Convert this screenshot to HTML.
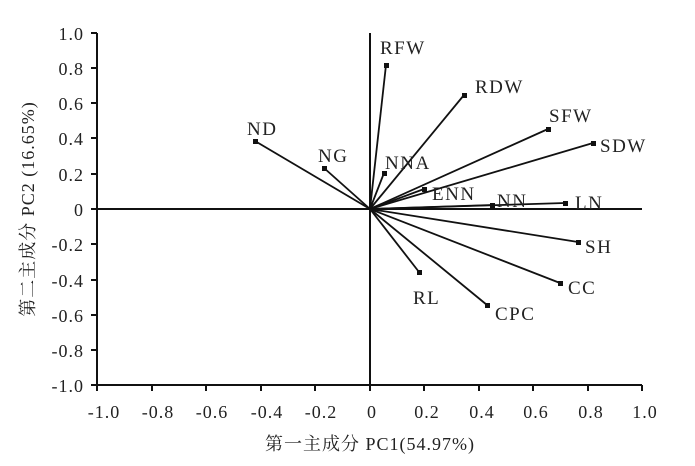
<!DOCTYPE html>
<html><head><meta charset="utf-8"><style>body{margin:0;background:#fff}svg{display:block}</style></head><body>
<svg width="695" height="466" xmlns="http://www.w3.org/2000/svg" font-family="Liberation Serif, Noto Serif CJK SC, serif" fill="#222">
<g stroke="#111" stroke-width="2">
<line x1="97" y1="33" x2="97" y2="385"/>
<line x1="97" y1="385" x2="642" y2="385"/>
<line x1="370" y1="33" x2="370" y2="385"/>
<line x1="97" y1="209" x2="642" y2="209"/>
<line x1="91" y1="33" x2="97" y2="33"/><line x1="91" y1="68" x2="97" y2="68"/><line x1="91" y1="103" x2="97" y2="103"/><line x1="91" y1="138" x2="97" y2="138"/><line x1="91" y1="174" x2="97" y2="174"/><line x1="91" y1="209" x2="97" y2="209"/><line x1="91" y1="244" x2="97" y2="244"/><line x1="91" y1="280" x2="97" y2="280"/><line x1="91" y1="315" x2="97" y2="315"/><line x1="91" y1="350" x2="97" y2="350"/><line x1="91" y1="385" x2="97" y2="385"/>
<line x1="97" y1="385" x2="97" y2="391"/><line x1="152" y1="385" x2="152" y2="391"/><line x1="206" y1="385" x2="206" y2="391"/><line x1="261" y1="385" x2="261" y2="391"/><line x1="315" y1="385" x2="315" y2="391"/><line x1="370" y1="385" x2="370" y2="391"/><line x1="424" y1="385" x2="424" y2="391"/><line x1="479" y1="385" x2="479" y2="391"/><line x1="533" y1="385" x2="533" y2="391"/><line x1="588" y1="385" x2="588" y2="391"/><line x1="642" y1="385" x2="642" y2="391"/>
<g stroke-width="1.8">
<line x1="370" y1="209" x2="255" y2="141"/><line x1="370" y1="209" x2="324" y2="168"/>
<line x1="370" y1="209" x2="386" y2="65"/><line x1="370" y1="209" x2="384" y2="173"/>
<line x1="370" y1="209" x2="464" y2="95"/><line x1="370" y1="209" x2="548" y2="129"/>
<line x1="370" y1="209" x2="593" y2="143"/><line x1="370" y1="209" x2="424" y2="189"/>
<line x1="370" y1="209" x2="492" y2="205"/><line x1="370" y1="209" x2="565" y2="203"/>
<line x1="370" y1="209" x2="578" y2="242"/><line x1="370" y1="209" x2="560" y2="283"/>
<line x1="370" y1="209" x2="487" y2="305"/><line x1="370" y1="209" x2="419" y2="272"/>
</g></g>
<g fill="#111">
<rect x="253" y="139" width="5" height="5"/><rect x="322" y="166" width="5" height="5"/><rect x="384" y="63" width="5" height="5"/><rect x="382" y="171" width="5" height="5"/><rect x="462" y="93" width="5" height="5"/><rect x="546" y="127" width="5" height="5"/><rect x="591" y="141" width="5" height="5"/><rect x="422" y="187" width="5" height="5"/><rect x="490" y="203" width="5" height="5"/><rect x="563" y="201" width="5" height="5"/><rect x="576" y="240" width="5" height="5"/><rect x="558" y="281" width="5" height="5"/><rect x="485" y="303" width="5" height="5"/><rect x="417" y="270" width="5" height="5"/>
</g>
<g font-size="19" letter-spacing="1.5">
<text x="247" y="135">ND</text><text x="318" y="162">NG</text><text x="380" y="54">RFW</text><text x="385" y="169">NNA</text><text x="475" y="93">RDW</text><text x="549" y="122">SFW</text><text x="600" y="152">SDW</text><text x="432" y="200">ENN</text><text x="497" y="207">NN</text><text x="575" y="209">LN</text><text x="585" y="253">SH</text><text x="568" y="294">CC</text><text x="495" y="320">CPC</text><text x="413" y="304">RL</text>
</g>
<g font-size="18" text-anchor="end" letter-spacing="1">
<text x="84" y="40">1.0</text><text x="84" y="75">0.8</text><text x="84" y="110">0.6</text><text x="84" y="145">0.4</text><text x="84" y="181">0.2</text><text x="84" y="216">0</text><text x="84" y="251">-0.2</text><text x="84" y="287">-0.4</text><text x="84" y="322">-0.6</text><text x="84" y="357">-0.8</text><text x="84" y="392">-1.0</text>
</g>
<g font-size="18" text-anchor="middle" letter-spacing="1">
<text x="104" y="418">-1.0</text><text x="158" y="418">-0.8</text><text x="212" y="418">-0.6</text><text x="267" y="418">-0.4</text><text x="321" y="418">-0.2</text><text x="372" y="418">0</text><text x="427" y="418">0.2</text><text x="482" y="418">0.4</text><text x="536" y="418">0.6</text><text x="591" y="418">0.8</text><text x="645" y="418">1.0</text>
<text x="370" y="450" font-size="18">第一主成分 PC1(54.97%)</text>
<text transform="translate(34,209) rotate(-90)" font-size="18">第二主成分 PC2 (16.65%)</text>
</g>
</svg>
</body></html>
